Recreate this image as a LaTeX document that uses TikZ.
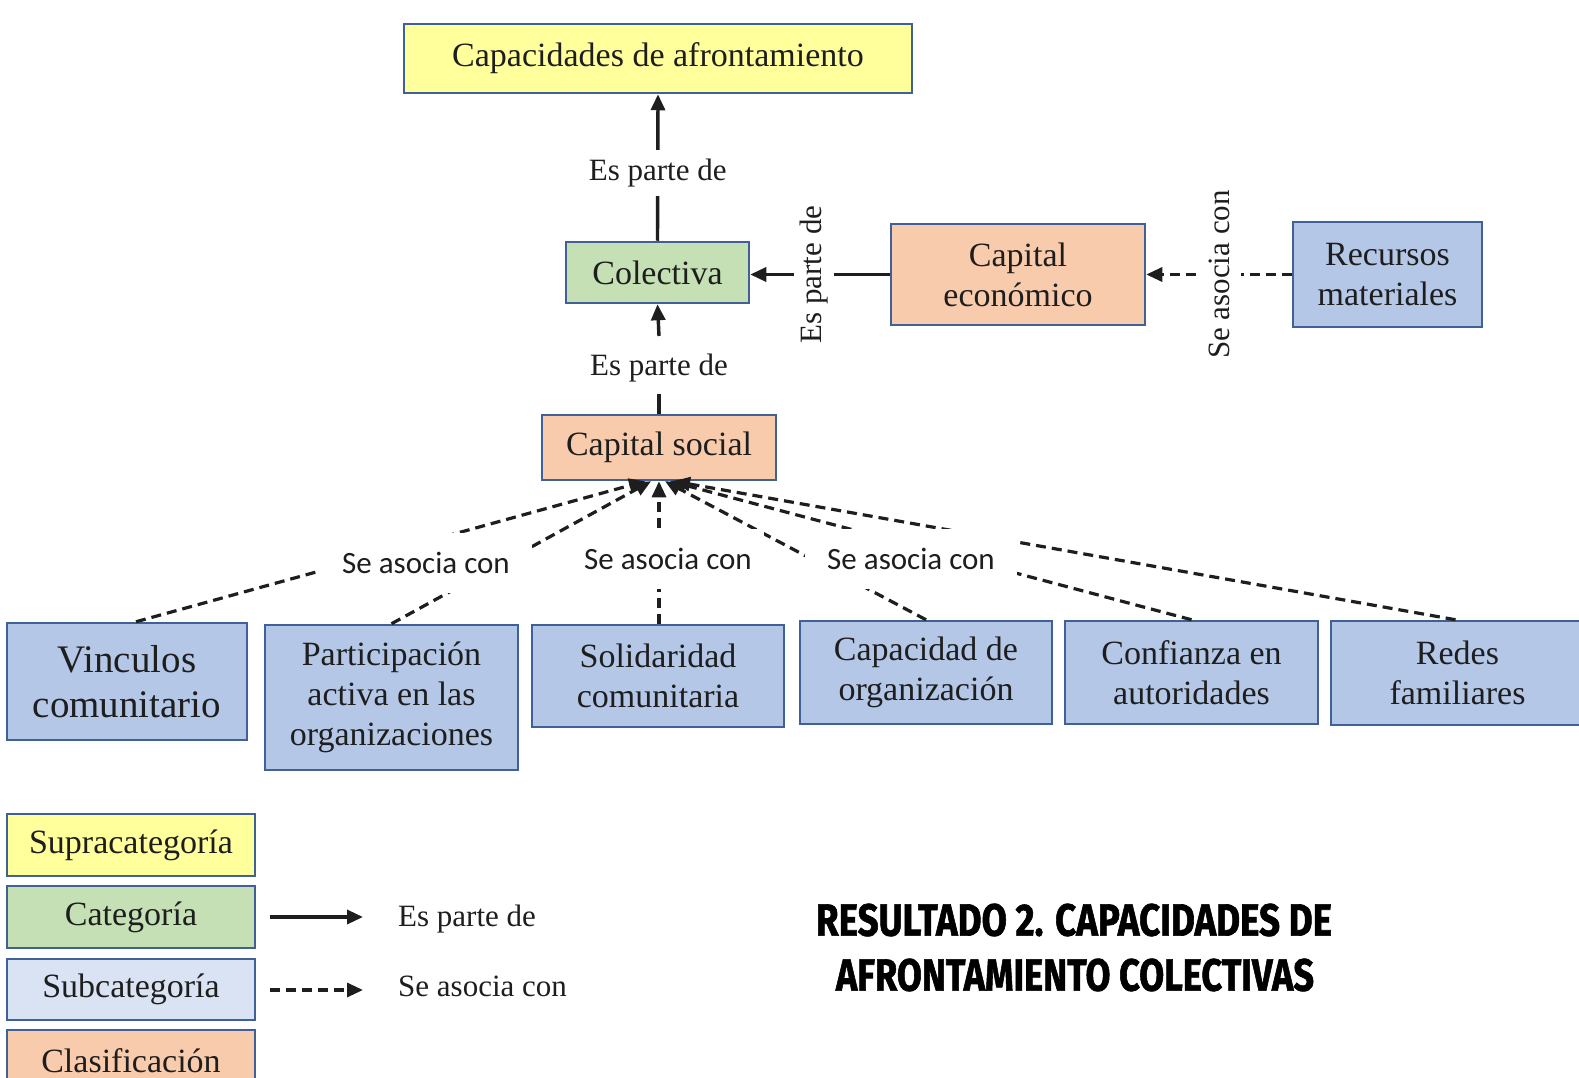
\documentclass[tikz,border=0pt]{standalone}
\usepackage{fontspec}
\usepackage{graphicx}
\setmainfont{Liberation Serif}
\newfontfamily\calib{Carlito}
\newfontfamily\headfont{Fira Sans}[BoldFeatures={FakeBold=1.5}]
\usetikzlibrary{arrows.meta}
\definecolor{bordc}{HTML}{3F6195}
\definecolor{yel}{HTML}{FFFF9C}
\definecolor{grn}{HTML}{C5E0B4}
\definecolor{org}{HTML}{F8CBAD}
\definecolor{blu}{HTML}{B4C7E7}
\definecolor{lblu}{HTML}{DAE3F3}
\definecolor{ink}{HTML}{1E1E1E}
\begin{document}
\begin{tikzpicture}[x=1pt,y=-1pt,
  box/.style={draw=bordc, line width=2.5pt, align=center, inner sep=0pt, text=ink,
    font=\fontsize{34}{40}\selectfont},
  tipa/.style={-{Triangle[length=16pt,width=14pt]}},
  solidline/.style={draw=ink, line width=3.4pt},
  dashline/.style={draw=ink, line width=3.2pt, dash pattern=on 10pt off 6pt},
  lab/.style={fill=white, text=ink, font=\fontsize{31}{31}\selectfont, inner sep=9pt},
  salab/.style={fill=white, text=ink, font=\calib\fontsize{31}{31}\selectfont, inner xsep=22pt, inner ysep=19pt},
  legtext/.style={text=ink, font=\fontsize{31}{31}\selectfont, anchor=west, inner sep=0pt}
]
\useasboundingbox (0,0) rectangle (1579,1078);
\fill[white] (0,0) rectangle (1579,1078);
\clip (0,0) rectangle (1579,1078);

% main nodes
\node[box, fill=yel, minimum width=508pt, minimum height=69pt] (top) at (658,58.5) {Capacidades de afrontamiento};
\node[box, fill=grn, minimum width=183pt, minimum height=61pt] (col) at (657.5,272.5) {Colectiva};
\node[box, fill=org, minimum width=234pt, minimum height=65pt] (cs) at (659,447.5) {Capital social};
\node[box, fill=org, minimum width=254pt, minimum height=101pt] (ce) at (1018,274.5) {Capital\\econ\'omico};
\node[box, fill=blu, minimum width=189pt, minimum height=105pt] (rec) at (1387.5,274.5) {Recursos\\materiales};

% bottom row
\node[box, fill=blu, minimum width=240pt, minimum height=117pt, font=\fontsize{39}{45}\selectfont] (vin) at (127,681.5) {Vinculos\\comunitario};
\node[box, fill=blu, minimum width=253pt, minimum height=145pt] (par) at (391.5,697.5) {Participaci\'on\\activa en las\\organizaciones};
\node[box, fill=blu, minimum width=252pt, minimum height=102pt] (sol) at (658,676) {Solidaridad\\comunitaria};
\node[box, fill=blu, minimum width=252pt, minimum height=103pt] (cap) at (926,672.5) {Capacidad de\\organizaci\'on};
\node[box, fill=blu, minimum width=253pt, minimum height=103pt] (con) at (1191.5,672.5) {Confianza en\\autoridades};
\node[box, fill=blu, minimum width=253pt, minimum height=104pt] (red) at (1457.5,673) {Redes\\familiares};

% solid connectors
\draw[solidline, tipa] (col.north) -- (top.south) node[lab, pos=0.46] (l1) {Es parte de};
\node[lab, inner xsep=3pt, inner ysep=12pt] (l2) at (659,368) {Es parte de};
\coordinate (c2) at (659,336);
\draw[solidline] (cs.north) -- (l2.south);
\draw[solidline, tipa] (c2) -- (col.south);
\draw[solidline, tipa] (ce.west) -- (ce.west -| col.east) node[lab, pos=0.54, rotate=90, inner sep=6pt] (l3) {Es parte de};
\draw[dashline, tipa] (rec.west) -- (ce.east) node[lab, midway, rotate=90, inner sep=12pt] (l4) {Se asocia con};

% dashed connectors to capital social
\coordinate (t1) at ([xshift=-14pt]cs.south);
\coordinate (t2) at ([xshift=-8pt]cs.south);
\coordinate (t3) at ([xshift=0pt]cs.south);
\coordinate (t4) at ([xshift=6pt]cs.south);
\coordinate (t5) at ([xshift=11pt]cs.south);
\coordinate (t6) at ([xshift=15pt]cs.south);
\draw[dashline, tipa] ([xshift=9pt]vin.north) -- (t1);
\draw[dashline, tipa] (par.north) -- (t2);
\draw[dashline, tipa] (sol.north -| t3) -- (t3);
\draw[dashline, tipa] (cap.north) -- (t4);
\draw[dashline, tipa] (con.north) -- (t5);
\draw[dashline, tipa] ([xshift=-2pt]red.north) -- (t6);
\node[salab] (s1) at (426,563) {Se asocia con};
\node[salab, inner xsep=12pt] (s2) at (668,559) {Se asocia con};
\node[salab] (s3) at (911,559) {Se asocia con};

% legend
\node[box, fill=yel, minimum width=248pt, minimum height=62pt] (g1) at (131,845) {Supracategor\'ia};
\node[box, fill=grn, minimum width=248pt, minimum height=62pt] (g2) at (131,917) {Categor\'ia};
\node[box, fill=lblu, minimum width=248pt, minimum height=61pt] (g3) at (131,989.5) {Subcategor\'ia};
\node[box, fill=org, minimum width=248pt, minimum height=62pt] (g4) at (131,1061) {Clasificaci\'on};
\coordinate (a1) at (270,917);
\coordinate (b1) at (363,917);
\coordinate (a2) at (270,990);
\coordinate (b2) at (363,990);
\draw[solidline, tipa] (a1) -- (b1);
\draw[dashline, tipa] (a2) -- (b2);
\node[legtext] (e1) at (398,919) {Es parte de};
\node[legtext] (e2) at (398,986) {Se asocia con};

% title
\node[inner sep=0pt, text=black] (h1) at (1074,920) {\resizebox{516pt}{32pt}{\headfont\bfseries RESULTADO 2. CAPACIDADES DE}};
\node[inner sep=0pt, text=black] (h2) at (1075,975) {\resizebox{478pt}{32pt}{\headfont\bfseries AFRONTAMIENTO COLECTIVAS}};
\end{tikzpicture}
\end{document}
